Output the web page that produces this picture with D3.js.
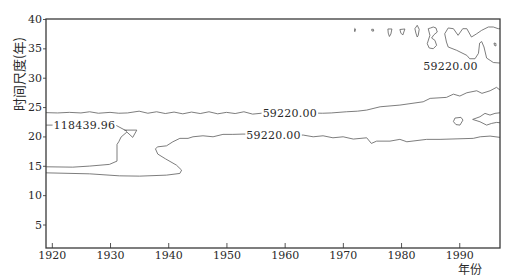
<!DOCTYPE html>
<html><head><meta charset="utf-8">
<script src="https://cdn.jsdelivr.net/npm/d3@7"></script>
<style>
html,body{margin:0;padding:0;background:#fff;}
svg{display:block;}
.serif{font-family:"DejaVu Serif","Liberation Serif",serif;}
.cjk{font-family:"Noto Sans CJK SC","Noto Sans",sans-serif;}
</style></head>
<body>
<svg id="chart" width="512" height="278"></svg>
<script>
// ---- data (year, time scale in years) ----
const xTicks = [1920, 1930, 1940, 1950, 1960, 1970, 1980, 1990];
const yTicks = [5, 10, 15, 20, 25, 30, 35, 40];
const xTitle = "年份";
const yTitle = "时间尺度(年)";

// upper 59220 contour
const contourUpper = [[1919,24.05],[1921,24.0],[1923,24.1],[1925,24.0],[1926.5,24.2],[1928,23.95],[1930,24.1],[1931.5,23.95],[1933,24.0],[1935,24.3],[1936.5,23.95],[1938,24.2],[1939.5,23.9],[1941,24.15],[1942.5,23.85],[1944,24.15],[1945.5,23.9],[1947,24.2],[1948.5,23.85],[1950,24.1],[1951.5,23.9],[1953,24.2],[1954.5,23.8],[1956,23.95],[1960,24.0],[1964,24.0],[1966.5,23.95],[1968,24.0],[1970.6,24.2],[1972.5,24.3],[1974.1,24.49],[1976.4,25.05],[1979.8,25.34],[1983.8,25.9],[1985,26.48],[1987.8,26.65],[1989,27.2],[1990.1,26.88],[1991.3,27.44],[1993,27.78],[1993.9,27.34],[1995.3,27.78],[1996.4,28.36],[1997,27.9]];

// lower 59220 contour (with lobe)
const contourLower = [[1919,13.8],[1926.5,13.63],[1931.6,13.29],[1935.1,13.24],[1939.7,13.41],[1942,13.7],[1942.3,14.26],[1941.4,15.12],[1939.5,16.2],[1938.2,17.0],[1937.8,17.9],[1938.2,18.23],[1939.7,18.4],[1940.8,19.09],[1942,19.67],[1943.4,19.67],[1944.25,19.94],[1945.97,20.11],[1947.7,19.94],[1949.4,20.35],[1951.1,20.35],[1952.85,20.4],[1958,20.35],[1963.2,20.23],[1964.9,19.94],[1966.6,20.11],[1968.3,19.77],[1970.05,19.94],[1971.8,19.55],[1974.1,19.77],[1974.9,18.81],[1975.8,19.2],[1978.1,19.2],[1979.8,19.5],[1981,19.09],[1984.4,19.5],[1986.7,19.5],[1992.4,19.67],[1993.6,19.94],[1995.3,20.06],[1997,19.84]];

// 118439.96 contour
const contourHigh = [[1919,21.93],[1925,21.93],[1930.95,21.93],[1932.9,20.9],[1932.5,21.08],[1934.6,21.08],[1933.9,19.84],[1932.9,20.75],[1931.9,19.9],[1931.5,19.09],[1931.2,18.64],[1931.2,15.8],[1929.9,15.24],[1926.5,14.95],[1923.6,14.77],[1919,14.83]];

// top right contours
const contourTopRight = [[1997,38.35],[1996.7,38.35],[1995.85,38.64],[1995,38.64],[1993.85,38.07],[1993.0,37.49],[1992.1,36.93],[1991.3,38.35],[1990.6,38.35],[1989.8,37.22],[1989.0,38.35],[1988.1,38.47],[1987.5,37.49],[1987.8,36.08],[1988.1,35.23],[1989.55,34.67],[1991.3,33.81],[1991.8,33.23],[1992.7,33.23],[1993.3,34.15],[1993.5,35.9],[1993.85,36.16],[1994.25,35.23],[1994.7,33.35],[1995.3,32.96],[1995.85,32.59],[1997,32.5]];
const loopA = [[1972.05,38.4],[1972.15,38.3],[1972.1,37.85],[1972.0,37.9]];
const loopB = [[1974.95,38.25],[1975.25,38.25],[1975.3,37.95],[1975.0,37.95]];
const loopC = [[1977.74,38.3],[1978.43,38.3],[1978.25,37.44],[1978.0,37.02],[1977.8,37.6]];
const loopD = [[1979.8,38.21],[1980.66,38.3],[1980.3,37.27],[1979.97,37.6]];
const loopE = [[1982.38,38.35],[1982.78,38.93],[1983.12,38.24],[1982.95,37.22],[1982.78,36.93],[1982.55,37.6]];
const loopF = [[1984.67,38.35],[1984.96,37.22],[1984.5,35.79],[1984.84,35.06],[1985.53,34.94],[1986.11,35.52],[1985.82,36.37],[1985.25,36.76],[1985.65,37.32],[1986.22,37.78],[1986.0,38.47],[1985.53,38.64],[1985.08,38.47]];
const loopG = [[1995.97,35.91],[1996.3,35.83],[1996.3,35.4],[1996.05,35.5]];
const loopH = [[1989.26,23.13],[1990.29,23.25],[1990.64,22.79],[1990.12,21.93],[1989.43,22.02],[1989.0,22.53]];
const contourRightNotch = [[1997,24.03],[1996.14,23.93],[1995.28,23.64],[1994.42,23.93],[1993.56,23.35],[1992.3,22.9],[1993.56,22.5],[1994.7,21.93],[1995.57,22.22],[1996.43,22.39],[1997,22.33]];

const closedContours = [loopA, loopB, loopC, loopD, loopE, loopF, loopG, loopH];
const openContours = [contourUpper, contourLower, contourHigh, contourTopRight, contourRightNotch];

const labelTexts = ["59220.00", "59220.00", "118439.96", "59220.00"];
const labelYears = [1960.9, 1958.1, 1925.6, 1988.5];
const labelScales = [23.95, 20.3, 21.93, 32.0];

// ---- drawing ----
const svg = d3.select("#chart");
const x = d3.scaleLinear().domain([1919, 1997]).range([46, 500]);
const y = d3.scaleLinear().domain([1, 40]).range([248, 19]);

const ink = "#2a2a2a";

const line = d3.line().x(d => x(d[0])).y(d => y(d[1]));
const lineClosed = d3.line().x(d => x(d[0])).y(d => y(d[1])).curve(d3.curveLinearClosed);

const g = svg.append("g");
g.selectAll("path.open").data(openContours).join("path")
  .attr("class", "open").attr("d", line)
  .attr("fill", "none").attr("stroke", "#666").attr("stroke-width", 0.85);
g.selectAll("path.closed").data(closedContours).join("path")
  .attr("class", "closed").attr("d", lineClosed)
  .attr("fill", "none").attr("stroke", "#666").attr("stroke-width", 0.85);

// contour labels with white backing
const labels = labelTexts.map((t, i) => ({t, yr: labelYears[i], s: labelScales[i]}));
const lg = svg.append("g");
labels.forEach(d => {
  const grp = lg.append("g");
  const bg = grp.append("rect").attr("fill", "#fff");
  const txt = grp.append("text")
    .attr("class", "serif")
    .attr("x", x(d.yr)).attr("y", y(d.s))
    .attr("text-anchor", "middle").attr("dy", "0.35em")
    .style("font-size", "11px")
    .attr("letter-spacing", 0.25)
    .attr("fill", ink).text(d.t);
  const b = txt.node().getBBox();
  bg.attr("x", b.x - 1).attr("y", b.y + 2).attr("width", b.width + 2).attr("height", b.height - 4);
});

// axes
const xAxis = svg.append("g").attr("transform", "translate(0,248)")
  .call(d3.axisBottom(x).tickValues(xTicks).tickFormat(d3.format("d")).tickSize(-5).tickPadding(3).tickSizeOuter(0));
const yAxis = svg.append("g").attr("transform", "translate(46,0)")
  .call(d3.axisLeft(y).tickValues(yTicks).tickSize(3).tickPadding(1).tickSizeOuter(0));
[xAxis, yAxis].forEach(a => {
  a.attr("font-family", null).attr("font-size", null);
  a.select(".domain").remove();
  a.selectAll("line").attr("stroke", "#555");
  a.selectAll("text").attr("class", "serif").style("font-size", "11px").attr("fill", ink);
});

// frame
svg.append("rect").attr("x", 46).attr("y", 19).attr("width", 454).attr("height", 229)
  .attr("fill", "none").attr("stroke", "#3a3a3a").attr("stroke-width", 1.3);

// titles
svg.append("text").attr("class", "cjk").attr("transform", "translate(19,74) rotate(-90)")
  .attr("text-anchor", "middle").attr("dy", "0.35em")
  .style("font-size", "13px").attr("fill", ink).text(yTitle);
svg.append("text").attr("class", "cjk").attr("x", 470).attr("y", 274)
  .style("font-size", "12px").attr("text-anchor", "middle")
  .attr("fill", ink).text(xTitle);
</script>
</body></html>
